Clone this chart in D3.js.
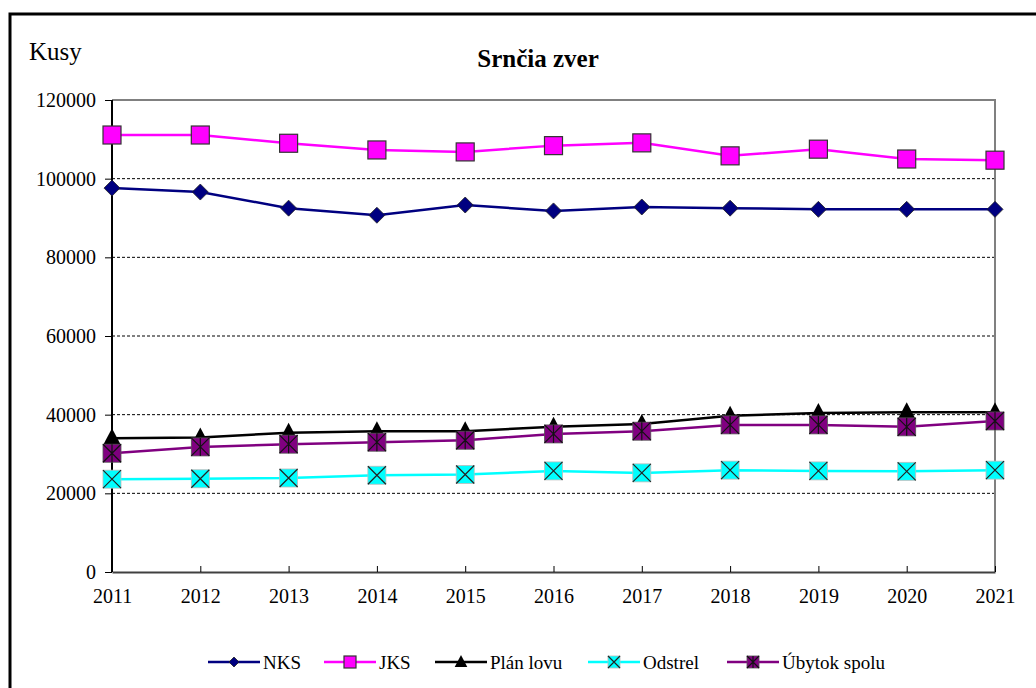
<!DOCTYPE html>
<html>
<head>
<meta charset="utf-8">
<script src="https://cdn.jsdelivr.net/npm/d3@7"></script>
<style>
  body { margin: 0; background: #fff; }
  svg text { font-family: "Liberation Serif", "Times New Roman", Times, serif !important; }
</style>
</head>
<body>
<div id="chart"></div>
<script>
// data
var years = [2011, 2012, 2013, 2014, 2015, 2016, 2017, 2018, 2019, 2020, 2021];
var nks = [97600, 96600, 92500, 90700, 93300, 91800, 92800, 92500, 92200, 92200, 92200];
var jks = [111100, 111100, 109000, 107300, 106800, 108400, 109100, 105800, 107500, 105000, 104700];
var planLovu = [34000, 34200, 35400, 35800, 35800, 36900, 37600, 39700, 40400, 40600, 40600];
var odstrel = [23600, 23700, 23900, 24600, 24800, 25700, 25200, 25900, 25700, 25600, 25900];
var ubytok = [30200, 31800, 32500, 33000, 33500, 35100, 35800, 37400, 37400, 36900, 38400];
var yTicks = [0, 20000, 40000, 60000, 80000, 100000, 120000];

var series = [
  {name: "NKS", values: nks, color: "#000080", marker: "diamond"},
  {name: "JKS", values: jks, color: "#ff00ff", marker: "square"},
  {name: "Plán lovu", values: planLovu, color: "#000000", marker: "triangle"},
  {name: "Odstrel", values: odstrel, color: "#00ffff", marker: "cross"},
  {name: "Úbytok spolu", values: ubytok, color: "#800080", marker: "star"}
];

var W = 1036, H = 688;
var margin = {top: 100, right: 41, bottom: 116, left: 112},
  width = W - margin.left - margin.right,
  height = H - margin.top - margin.bottom;
var serif = "'Liberation Serif', 'Times New Roman', serif";

var root = d3.select("#chart").append("svg")
  .attr("width", W)
  .attr("height", H)
  .attr("font-family", serif);

// outer frame (runs off the right/bottom edge)
root.append("rect")
  .attr("x", 10).attr("y", 14)
  .attr("width", 1100).attr("height", 800)
  .attr("fill", "none")
  .attr("stroke", "#000")
  .attr("stroke-width", 3);

root.append("text")
  .attr("x", 29).attr("y", 60)
  .style("font-size", "25px")
  .text("Kusy");

root.append("text")
  .attr("x", 538).attr("y", 67)
  .attr("text-anchor", "middle")
  .style("font-size", "25px")
  .style("font-weight", "bold")
  .text("Srnčia zver");

var svg = root.append("g")
  .attr("transform", "translate(" + margin.left + "," + margin.top + ")");

var x = d3.scalePoint().domain(years).range([0, width]);
var y = d3.scaleLinear().domain([0, 120000]).range([height, 0]);

// gridlines
svg.append("g")
  .selectAll("line")
  .data(yTicks.filter(function(d) { return d > 0 && d < 120000; }))
  .enter().append("line")
  .attr("x1", 0).attr("x2", width)
  .attr("y1", function(d) { return y(d); })
  .attr("y2", function(d) { return y(d); })
  .attr("stroke", "#000")
  .attr("stroke-width", 1)
  .attr("stroke-dasharray", "3,2");

// top and right plot border
svg.append("path")
  .attr("d", "M0," + y(120000) + "H" + width + "V" + height)
  .attr("fill", "none")
  .attr("stroke", "#808080")
  .attr("stroke-width", 2);

// axes
var yAxis = svg.append("g")
  .call(d3.axisLeft(y).tickValues(yTicks).tickSize(7).tickPadding(9).tickFormat(d3.format("d")))
  .attr("font-family", serif);
yAxis.select(".domain").attr("stroke", "#000").attr("stroke-width", 2).attr("d", "M0," + height + "V0");
yAxis.selectAll("text").style("font-size", "20px").attr("fill", "#000");

var xAxis = svg.append("g")
  .attr("transform", "translate(0," + height + ")")
  .call(d3.axisBottom(x).tickSize(6).tickSizeOuter(0).tickPadding(11))
  .attr("font-family", serif);
xAxis.selectAll(".tick line").attr("transform", "translate(0,-6)");
xAxis.select(".domain").attr("stroke", "#404040").attr("stroke-width", 2);
xAxis.selectAll("text").style("font-size", "20px").attr("fill", "#000");

var line = d3.line()
  .x(function(d, i) { return x(years[i]); })
  .y(function(d) { return y(d); });

function drawMarker(g, type, color, s) {
  if (type === "diamond") {
    g.append("path").attr("d", "M0,-" + s + "L" + s + ",0L0," + s + "L-" + s + ",0Z")
      .attr("fill", color).attr("stroke", "#222").attr("stroke-width", 0.8);
  } else if (type === "square") {
    g.append("rect").attr("x", -s).attr("y", -s).attr("width", 2 * s).attr("height", 2 * s)
      .attr("fill", color).attr("stroke", "#333").attr("stroke-width", 1.2);
  } else if (type === "triangle") {
    g.append("path").attr("d", "M0,-" + s + "L" + (s * 0.9) + "," + (s * 0.7) + "L-" + (s * 0.9) + "," + (s * 0.7) + "Z")
      .attr("fill", color);
  } else if (type === "cross") {
    g.append("rect").attr("x", -s).attr("y", -s).attr("width", 2 * s).attr("height", 2 * s)
      .attr("fill", color).attr("stroke", "#bbb").attr("stroke-width", 0.8);
    g.append("path").attr("d", "M-" + s + ",-" + s + "L" + s + "," + s + "M" + s + ",-" + s + "L-" + s + "," + s)
      .attr("stroke", "#222").attr("stroke-width", 1.2);
  } else if (type === "star") {
    g.append("rect").attr("x", -s).attr("y", -s).attr("width", 2 * s).attr("height", 2 * s)
      .attr("fill", color).attr("stroke", "#555").attr("stroke-width", 0.8);
    g.append("path").attr("d", "M-" + s + ",-" + s + "L" + s + "," + s + "M" + s + ",-" + s + "L-" + s + "," + s + "M0,-" + s + "V" + s)
      .attr("stroke", "#111").attr("stroke-width", 1.2);
  }
}

var sizes = {diamond: 8, square: 9, triangle: 10, cross: 9, star: 9};

series.forEach(function(s) {
  svg.append("path")
    .datum(s.values)
    .attr("d", line)
    .attr("fill", "none")
    .attr("stroke", s.color)
    .attr("stroke-width", 2.5);
  svg.append("g").selectAll("g")
    .data(s.values)
    .enter().append("g")
    .attr("transform", function(d, i) { return "translate(" + x(years[i]) + "," + y(d) + ")"; })
    .each(function() { drawMarker(d3.select(this), s.marker, s.color, sizes[s.marker]); });
});

// legend
var legendX = [208, 324, 435, 588, 727];
var legend = root.append("g").attr("transform", "translate(0,662)");
series.forEach(function(s, i) {
  var g = legend.append("g").attr("transform", "translate(" + legendX[i] + ",0)");
  g.append("line").attr("x1", 0).attr("x2", 52).attr("stroke", s.color).attr("stroke-width", 2.5);
  var m = g.append("g").attr("transform", "translate(26,0)");
  drawMarker(m, s.marker, s.color, {diamond: 5, square: 6, triangle: 7, cross: 6, star: 6}[s.marker]);
  g.append("text").attr("x", 55).attr("y", 7)
    .style("font-size", "19px")
    .text(s.name);
});
</script>
</body>
</html>
